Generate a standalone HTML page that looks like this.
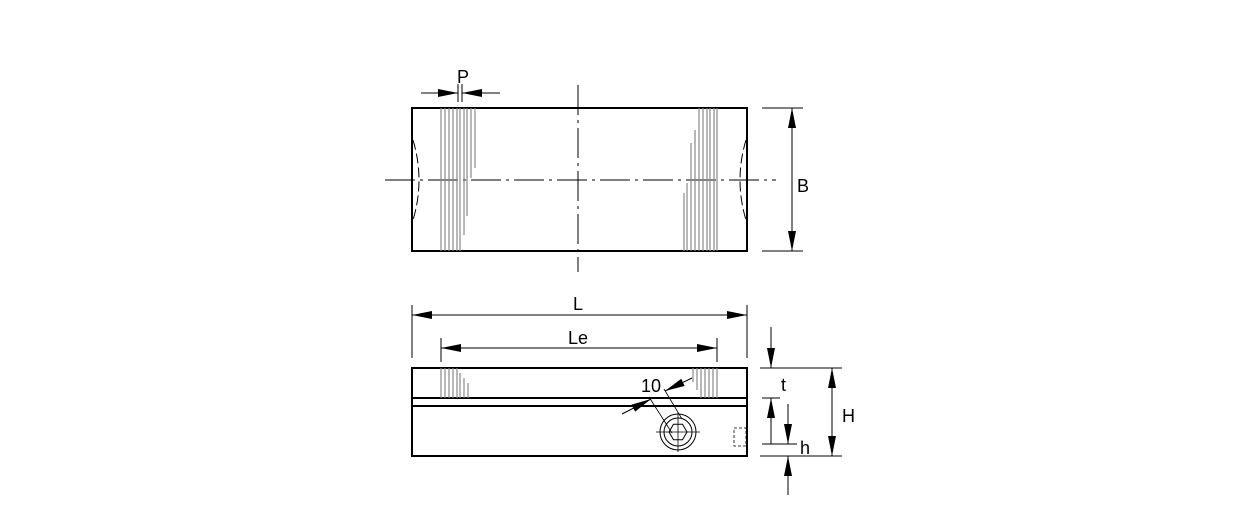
<!DOCTYPE html>
<html><head><style>html,body{margin:0;padding:0;background:#fff}svg{display:block}</style></head><body>
<svg width="1240" height="513" viewBox="0 0 1240 513" xmlns="http://www.w3.org/2000/svg" font-family="Liberation Sans, sans-serif">
<defs>
<marker id="a" viewBox="0 0 20 8" refX="20" refY="4" markerWidth="20" markerHeight="8" markerUnits="userSpaceOnUse" orient="auto"><path d="M0,0L20,4L0,8z" fill="#000"/></marker>
</defs>
<g fill="none" stroke="#000">
<rect x="412" y="108" width="335" height="143" stroke-width="2"/>
<g stroke-width="1" stroke-dasharray="30,5,3,5">
<line x1="578" y1="85" x2="578" y2="272"/>
<line x1="385" y1="180" x2="776" y2="180"/>
</g>
<g stroke="#888" stroke-width="1.2">
<line x1="441" y1="108" x2="441" y2="251"/><line x1="445" y1="108" x2="445" y2="251"/>
<line x1="449" y1="108" x2="449" y2="251"/><line x1="453" y1="108" x2="453" y2="251"/>
<line x1="457" y1="108" x2="457" y2="251"/><line x1="460" y1="108" x2="460" y2="251"/>
<line x1="464" y1="108" x2="464" y2="235"/><line x1="467" y1="108" x2="467" y2="216"/>
<line x1="471" y1="108" x2="471" y2="178"/><line x1="475" y1="108" x2="475" y2="168"/>
<line x1="684" y1="193" x2="684" y2="251"/><line x1="687" y1="183" x2="687" y2="251"/>
<line x1="691" y1="143" x2="691" y2="251"/><line x1="695" y1="130" x2="695" y2="251"/>
<line x1="699" y1="108" x2="699" y2="251"/><line x1="703" y1="108" x2="703" y2="251"/>
<line x1="707" y1="108" x2="707" y2="251"/><line x1="710" y1="108" x2="710" y2="251"/>
<line x1="714" y1="108" x2="714" y2="251"/><line x1="717" y1="108" x2="717" y2="251"/>
</g>
<g stroke-width="1" stroke-dasharray="10,4">
<path d="M413,140 Q425,180 413,220"/>
<path d="M746,140 Q734,180 746,220"/>
</g>
<line x1="421" y1="93" x2="458" y2="93" marker-end="url(#a)"/>
<line x1="500" y1="93" x2="462" y2="93" marker-end="url(#a)"/>
<line x1="458" y1="84" x2="458" y2="102"/><line x1="462" y1="84" x2="462" y2="102"/>
<line x1="762" y1="108" x2="803" y2="108"/><line x1="762" y1="251" x2="803" y2="251"/>
<line x1="792" y1="180" x2="792" y2="108" marker-end="url(#a)"/>
<line x1="792" y1="180" x2="792" y2="251" marker-end="url(#a)"/>
<rect x="412" y="368" width="335" height="88" stroke-width="2"/>
<line x1="412" y1="398" x2="747" y2="398" stroke-width="2"/>
<line x1="412" y1="406" x2="747" y2="406" stroke-width="2"/>
<g stroke="#888" stroke-width="1.2">
<line x1="441" y1="368" x2="441" y2="398"/><line x1="445" y1="368" x2="445" y2="398"/>
<line x1="449" y1="368" x2="449" y2="398"/><line x1="453" y1="368" x2="453" y2="398"/>
<line x1="457" y1="368" x2="457" y2="398"/><line x1="460" y1="373" x2="460" y2="398"/>
<line x1="464" y1="378" x2="464" y2="398"/><line x1="468" y1="383" x2="468" y2="398"/>
<line x1="693" y1="368" x2="693" y2="382"/><line x1="697" y1="368" x2="697" y2="390"/>
<line x1="701" y1="368" x2="701" y2="398"/><line x1="705" y1="368" x2="705" y2="398"/>
<line x1="709" y1="368" x2="709" y2="398"/><line x1="713" y1="368" x2="713" y2="398"/>
<line x1="717" y1="368" x2="717" y2="398"/>
</g>
<line x1="412" y1="305" x2="412" y2="358"/><line x1="747" y1="305" x2="747" y2="358"/>
<line x1="580" y1="315" x2="412" y2="315" marker-end="url(#a)"/>
<line x1="580" y1="315" x2="747" y2="315" marker-end="url(#a)"/>
<line x1="441" y1="338" x2="441" y2="362"/><line x1="717" y1="338" x2="717" y2="362"/>
<line x1="580" y1="348" x2="441" y2="348" marker-end="url(#a)"/>
<line x1="580" y1="348" x2="717" y2="348" marker-end="url(#a)"/>
<circle cx="678" cy="432" r="18"/><circle cx="678" cy="432" r="14"/>
<polygon points="687,432 682.5,439.8 673.5,439.8 669,432 673.5,424.2 682.5,424.2"/>
<line x1="656" y1="432" x2="700" y2="432" stroke-width="0.8"/>
<line x1="678" y1="412" x2="678" y2="452" stroke-width="0.8"/>
<line x1="622" y1="414" x2="651" y2="399" marker-end="url(#a)"/>
<line x1="692" y1="378" x2="665" y2="391" marker-end="url(#a)"/>
<line x1="649" y1="397" x2="672" y2="433" stroke-width="0.8"/>
<line x1="664" y1="389" x2="682" y2="419" stroke-width="0.8"/>
<rect x="734" y="428" width="12" height="18" stroke-dasharray="3,2" stroke-width="0.8"/>
<line x1="760" y1="368" x2="842" y2="368"/>
<line x1="762" y1="398" x2="780" y2="398"/>
<line x1="762" y1="444" x2="797" y2="444"/>
<line x1="760" y1="456" x2="842" y2="456"/>
<line x1="771" y1="327" x2="771" y2="368" marker-end="url(#a)"/>
<line x1="771" y1="444" x2="771" y2="398" marker-end="url(#a)"/>
<line x1="788" y1="404" x2="788" y2="444" marker-end="url(#a)"/>
<line x1="788" y1="495" x2="788" y2="456" marker-end="url(#a)"/>
<line x1="832" y1="412" x2="832" y2="368" marker-end="url(#a)"/>
<line x1="832" y1="412" x2="832" y2="456" marker-end="url(#a)"/>
</g>
<g font-size="18" fill="#000">
<text x="457" y="83">P</text>
<text x="797" y="192">B</text>
<text x="573" y="310">L</text>
<text x="568" y="344">Le</text>
<text x="641" y="392">10</text>
<text x="781" y="391">t</text>
<text x="800" y="454">h</text>
<text x="842" y="422">H</text>
</g>
</svg>
</body></html>
